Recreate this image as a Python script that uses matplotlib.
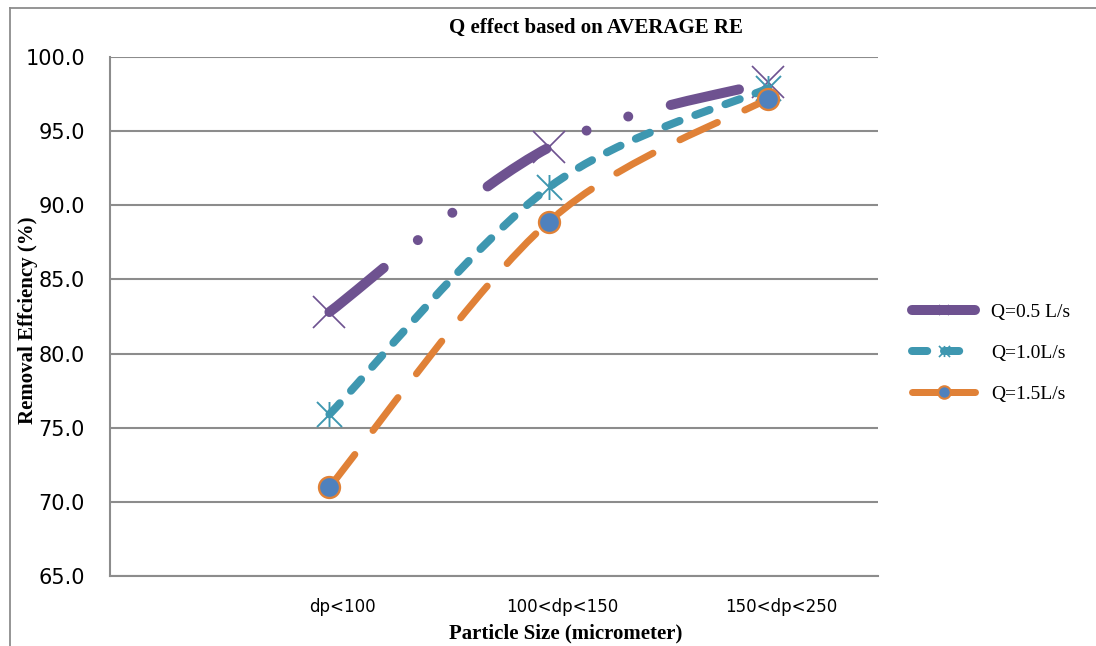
import numpy as np
import matplotlib
matplotlib.use("Agg")
import matplotlib.pyplot as plt
from matplotlib.path import Path
from matplotlib.patches import PathPatch
from matplotlib.lines import Line2D
import matplotlib.transforms as mtransforms

# ---------------- data ----------------
categories = ["dp<100", "100<dp<150", "150<dp<250"]
series_names = ["Q=0.5 L/s", "Q=1.0L/s", "Q=1.5L/s"]
q05 = [82.8, 93.9, 98.3]
q10 = [75.9, 91.2, 97.9]
q15 = [71.0, 88.9, 97.2]
y_ticks = [65.0, 70.0, 75.0, 80.0, 85.0, 90.0, 95.0, 100.0]

title = "Q effect based on AVERAGE RE"
xlabel = "Particle Size (micrometer)"
ylabel = "Removal Effciency (%)"

# ---------------- style ----------------
PX = 0.72  # points per pixel at dpi 100
purple = "#6E5290"
teal = "#3E97B0"
orange = "#E08137"
blue = "#4F81BD"
grid_gray = "#8C8C8C"
serif = ["Liberation Serif", "DejaVu Serif"]

fig = plt.figure(figsize=(10.96, 6.46), dpi=100)
W, H = 1096, 646
ax = fig.add_axes([110 / W, 1 - 576 / H, (878 - 110) / W, (576 - 57) / H])

xpos = np.arange(1, len(categories) + 1)


def smooth_path(xs, ys):
    pts = np.column_stack([xs, ys]).astype(float)
    n = len(pts)
    verts = [pts[0]]
    codes = [Path.MOVETO]
    for i in range(n - 1):
        p0 = pts[i - 1] if i > 0 else pts[i]
        p1 = pts[i]
        p2 = pts[i + 1]
        p3 = pts[i + 2] if i + 2 < n else pts[i + 1]
        c1 = p1 + (p2 - p0) / 6.0
        c2 = p2 - (p3 - p1) / 6.0
        verts += [c1, c2, p2]
        codes += [Path.CURVE4] * 3
    return Path(verts, codes)


star = Path([(-1, -1), (1, 1), (-1, 1), (1, -1), (0, -1), (0, 1)],
            [Path.MOVETO, Path.LINETO, Path.MOVETO, Path.LINETO, Path.MOVETO, Path.LINETO])

series = [
    dict(y=q05, color=purple, lw=10 * PX, ls=(0, (7.0, 4.4, 0.001, 4.4, 0.001, 4.4)),
         marker="x", ms=32 * PX, mew=1.7 * PX, mfc="none", mec=purple,
         leg_ls="-", leg_marker="x", leg_ms=7, leg_mew=1.2),
    dict(y=q10, color=teal, lw=8 * PX, ls=(0, (1.9, 2.1)),
         marker=star, ms=25 * PX, mew=1.9 * PX, mfc="none", mec=teal,
         leg_ls=(0, (1.9, 2.1)), leg_marker=star, leg_ms=8, leg_mew=1.2),
    dict(y=q15, color=orange, lw=7 * PX, ls=(0, (5.9, 4.3)),
         marker="o", ms=21 * PX, mew=2.3 * PX, mfc=blue, mec=orange,
         leg_ls="-", leg_marker="o", leg_ms=9, leg_mew=1.5),
]

handles = []
for i, s in enumerate(series):
    patch = PathPatch(smooth_path(xpos, s["y"]), fill=False, edgecolor=s["color"],
                      lw=s["lw"], linestyle=s["ls"], capstyle="round",
                      joinstyle="round", zorder=3 + 2 * i)
    ax.add_patch(patch)
    ax.plot(xpos, s["y"], linestyle="none", marker=s["marker"], ms=s["ms"],
            mew=s["mew"], mfc=s["mfc"], mec=s["mec"], zorder=4 + 2 * i)
    handles.append(Line2D([], [], color=s["color"], lw=s["lw"], linestyle=s["leg_ls"],
                          dash_capstyle="round", solid_capstyle="round",
                          marker=s["leg_marker"], ms=s["leg_ms"], mew=s["leg_mew"],
                          mfc=s["mfc"], mec=s["mec"]))

ax.set_xlim(0, 3.5)
ax.set_ylim(65, 100)
ax.set_yticks(y_ticks)
ax.set_yticklabels([f"{v:.1f}" for v in y_ticks], fontsize=15, family="DejaVu Sans")
ax.set_xticks(xpos)
ax.set_xticklabels(categories, fontsize=12, family="DejaVu Sans")
ax.tick_params(axis="y", length=0, pad=18)
ax.tick_params(axis="x", length=0, pad=16)
offset = mtransforms.ScaledTranslation(13 / 100, 0, fig.dpi_scale_trans)
for lab in ax.get_xticklabels():
    lab.set_transform(lab.get_transform() + offset)

ax.set_axisbelow(True)
ax.yaxis.grid(True, color=grid_gray, lw=1.5)
for side in ["top", "right"]:
    ax.spines[side].set_visible(False)
for side in ["left", "bottom"]:
    ax.spines[side].set_color(grid_gray)
    ax.spines[side].set_linewidth(1.5)

# titles
fig.text(596 / W, 1 - 28 / H, title, ha="center", va="center", fontsize=15,
         fontweight="bold", family=serif)
fig.text(566 / W, 1 - 633 / H, xlabel, ha="center", va="center", fontsize=15,
         fontweight="bold", family=serif)
fig.text(28 / W, 1 - 320 / H, ylabel, ha="center", va="center", fontsize=15,
         fontweight="bold", family=serif, rotation=90)

# legend
leg = fig.legend(handles, series_names, loc="center left",
                 bbox_to_anchor=(912 / W, 1 - 353 / H), bbox_transform=fig.transFigure,
                 frameon=False, borderpad=0, borderaxespad=0, handlelength=3.25,
                 handletextpad=0.8, labelspacing=1.2,
                 prop={"family": serif, "size": 14})

# outer chart frame (top and left edges visible)
fig.add_artist(Line2D([10 / W, 10 / W], [0, 1 - 8 / H], color=grid_gray, lw=1.3,
                      transform=fig.transFigure))
fig.add_artist(Line2D([10 / W, 1], [1 - 8 / H, 1 - 8 / H], color=grid_gray, lw=1.3,
                      transform=fig.transFigure))

fig.savefig("out.png", dpi=100)
